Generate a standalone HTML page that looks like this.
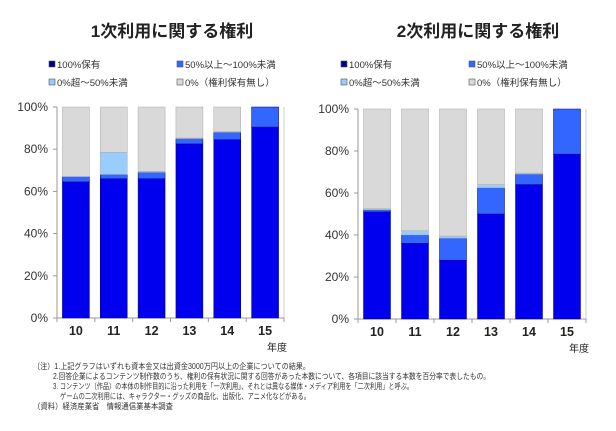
<!DOCTYPE html>
<html><head><meta charset="utf-8"><style>
body{margin:0;background:#fff;width:616px;height:426px;overflow:hidden;font-family:"Liberation Sans","Noto Sans CJK JP",sans-serif}
svg text{font-family:"Liberation Sans","Noto Sans CJK JP",sans-serif}
</style></head><body>
<svg id="s" width="616" height="426" xmlns="http://www.w3.org/2000/svg">
<text x="172" y="37" font-size="17" font-weight="bold" text-anchor="middle" fill="#222">1次利用に関する権利</text>
<text x="478" y="37" font-size="17" font-weight="bold" text-anchor="middle" fill="#222">2次利用に関する権利</text>
<g font-size="8" fill="#333" id="notes">
<text x="33" y="369" textLength="277" lengthAdjust="spacingAndGlyphs">（注）1.上記グラフはいずれも資本金又は出資金3000万円以上の企業についての結果。</text>
<text x="53" y="379" textLength="437" lengthAdjust="spacingAndGlyphs">2.回答企業によるコンテンツ制作数のうち、権利の保有状況に関する回答があった本数について、各項目に該当する本数を百分率で表したもの。</text>
<text x="53" y="389" textLength="360" lengthAdjust="spacingAndGlyphs">3. コンテンツ（作品）の本体の制作目的に沿った利用を「一次利用」、それとは異なる媒体・メディア利用を「二次利用」と呼ぶ。</text>
<text x="60" y="399" textLength="250" lengthAdjust="spacingAndGlyphs">ゲームの二次利用には、キャラクター・グッズの商品化、出版化、アニメ化などがある。</text>
<text x="33" y="409" textLength="140" lengthAdjust="spacingAndGlyphs">（資料）経済産業省　情報通信業基本調査</text>
</g>
</svg>
<script>
const categories=["10","11","12","13","14","15"];
const yTicks=[0,20,40,60,80,100];
const legendLabels=["100%保有","50%以上～100%未満","0%超～50%未満","0%（権利保有無し）"];
const colors=["#0000ee","#3366ff","#99ccff","#d9d9d9"];
const left100=[64.5,66,66,82.5,84.5,90.5];
const left50=[2.5,2,3,2.5,3.5,9.5];
const left0to50=[0,10.5,0.5,0.3,0.3,0];
const right100=[51,36,28,50,64,78.5];
const right50=[1,4,10.5,12.5,5,21.5];
const right0to50=[0.5,2,1,1.5,0.5,0];
const NS="http://www.w3.org/2000/svg";
const svg=document.getElementById('s');
function mk(t,a,p){const e=document.createElementNS(NS,t);for(const k in a)e.setAttribute(k,a[k]);(p||svg).appendChild(e);return e;}
function chart(x0,x1,yTop,yBot,s100,s50,s0,lx1,lx2,name){
  const g=mk('g',{});
  
  
  const yS=v=>yBot-(v/100)*(yBot-yTop);
  const step=(x1-x0)/categories.length;
  const xS=i=>x0+step*(i+0.5);
  const lpos=[[lx1,68],[lx2,68],[lx1,86],[lx2,86]];
  legendLabels.forEach((l,i)=>{
    const r=mk('rect',{x:lpos[i][0],y:lpos[i][1]-7,width:6,height:6,fill:i==0?'#000080':colors[i],stroke:'#555','stroke-width':0.6},g);
    
    
    const t=mk('text',{x:lpos[i][0]+8,y:lpos[i][1],'font-size':9.5,fill:'#333'},g);
    t.textContent=l;
    
    
  });
  mk('line',{x1:x0,y1:yTop,x2:x0,y2:yBot,stroke:'#999'},g);
  mk('line',{x1:x1,y1:yTop,x2:x1,y2:yBot,stroke:'#ccc'},g);
  mk('line',{x1:x0,y1:yBot,x2:x1,y2:yBot,stroke:'#999'},g);
  yTicks.forEach(v=>{
    mk('line',{x1:x0-4,y1:yS(v),x2:x0,y2:yS(v),stroke:'#999'},g);
    const t=mk('text',{x:x0-9,y:yS(v)+4,'font-size':12,fill:'#333','text-anchor':'end'},g);
    t.textContent=v+'%';
    
    
  });
  for(let i=0;i<=categories.length;i++) mk('line',{x1:x0+step*i,y1:yBot,x2:x0+step*i,y2:yBot+4,stroke:'#999'},g);
  categories.forEach((c,i)=>{
    const vals=[s100[i],s50[i],s0[i],100-s100[i]-s50[i]-s0[i]];
    let cum=0;
    vals.forEach((v,k)=>{
      if(v<=0)return;
      const r=mk('rect',{x:xS(i)-13.5,y:yS(cum+v),width:27,height:yS(cum)-yS(cum+v),fill:colors[k],stroke:k<2?'#000080':'#aaa','stroke-width':0.5},g);
      
      
      cum+=v;
    });
    const t=mk('text',{x:xS(i),y:yBot+17,'font-size':12.5,'font-weight':'bold',fill:'#222','text-anchor':'middle'},g);
    t.textContent=c;
    
    
  });
  const t=mk('text',{x:x1-7,y:yBot+33,'font-size':10,fill:'#222','text-anchor':'middle'},g);
  t.textContent='年度';
  
  
}
chart(57,284,107,318,left100,left50,left0to50,49,177,'left-chart');
chart(358,586,109,319,right100,right50,right0to50,341,469,'right-chart');
</script>
</body></html>
